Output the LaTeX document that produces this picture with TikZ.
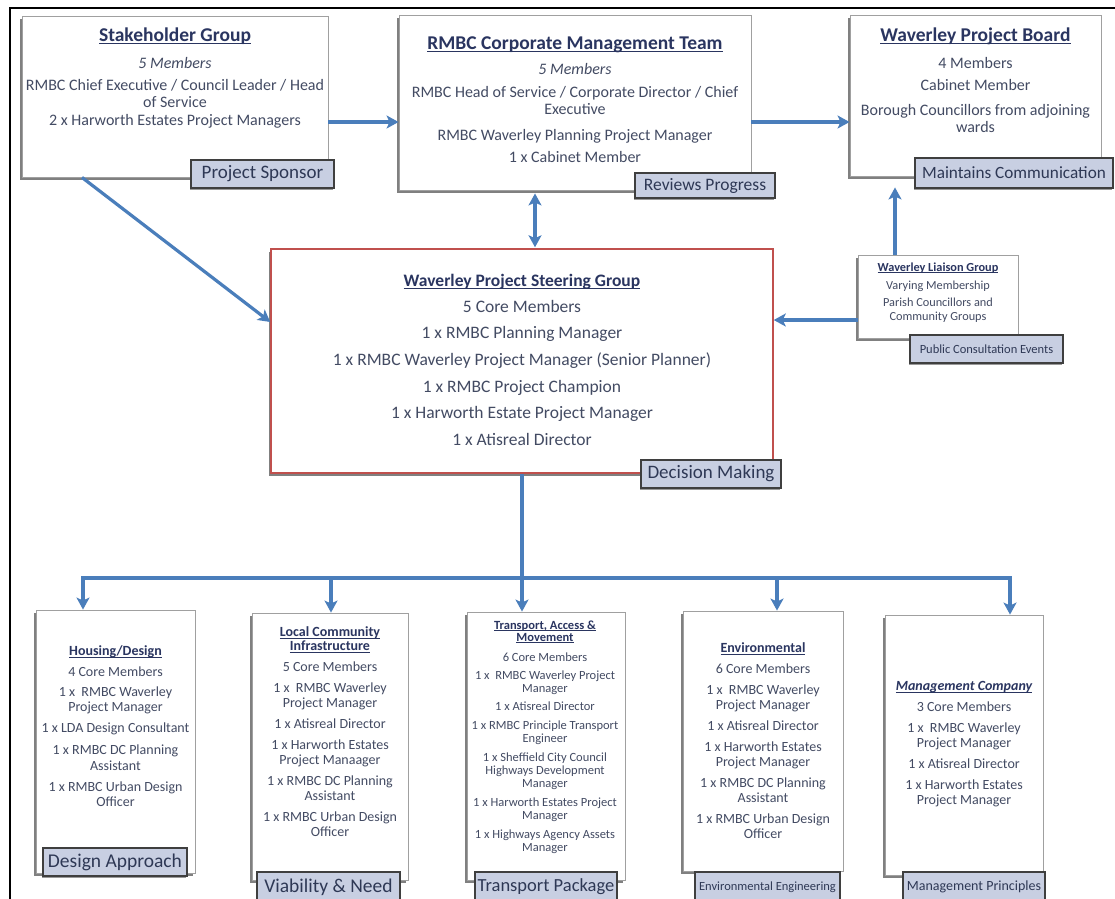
\documentclass[tikz,border=0pt]{standalone}
\usepackage{fontspec}
\setmainfont{Carlito}
\usetikzlibrary{arrows.meta,shadows}
\definecolor{bodytext}{HTML}{434B63}
\definecolor{titletext}{HTML}{2A3560}
\definecolor{boxgray}{HTML}{A0A0A0}
\definecolor{steerred}{HTML}{C0504D}
\definecolor{tagfill}{HTML}{C8CFE2}
\definecolor{tagborder}{HTML}{3F3F3F}
\definecolor{tagtext}{HTML}{2E3855}
\definecolor{arrowblue}{HTML}{4A7EBB}
\newcommand{\ttl}[1]{\setbox0\hbox{#1}\rlap{\rule[-0.17em]{\wd0}{0.07em}}\box0}
\tikzset{
  box/.style={draw=boxgray, line width=0.9pt, fill=white, inner sep=0pt,
    drop shadow={shadow xshift=-2pt, shadow yshift=-3pt, fill=black!50, opacity=1}},
  tag/.style={draw=tagborder, line width=1.2pt, fill=tagfill, text=tagtext, inner sep=0pt,
    drop shadow={shadow xshift=-1.5pt, shadow yshift=-2pt, fill=black!40, opacity=1}},
  tx/.style={text=bodytext, inner sep=0pt, anchor=base},
  ttop/.style={tx, text=titletext, font=\fontsize{19.5}{22}\selectfont\bfseries},
  btop/.style={tx, font=\fontsize{16}{18}\selectfont},
  tst/.style={tx, text=titletext, font=\fontsize{17.5}{20}\selectfont\bfseries},
  bst/.style={tx, font=\fontsize{17.5}{20}\selectfont},
  tli/.style={tx, text=titletext, font=\fontsize{12.3}{14}\selectfont\bfseries},
  bli/.style={tx, font=\fontsize{12.3}{14}\selectfont},
  tbt/.style={tx, text=titletext, font=\fontsize{14}{16}\selectfont\bfseries},
  bbt/.style={tx, font=\fontsize{14}{16}\selectfont},
  ttr/.style={tx, text=titletext, font=\fontsize{12.5}{14}\selectfont\bfseries},
  btr/.style={tx, font=\fontsize{12.5}{14}\selectfont},
  conn/.style={draw=arrowblue, line width=3.2pt, -{Stealth[length=12pt, width=13pt, inset=3pt]}},
  conn2/.style={draw=arrowblue, line width=3.2pt, {Stealth[length=12pt, width=13pt, inset=3pt]}-{Stealth[length=12pt, width=13pt, inset=3pt]}},
  bus/.style={draw=arrowblue, line width=3.2pt}
}
\begin{document}
\begin{tikzpicture}[x=1pt, y=-1pt]
\useasboundingbox (0,0) rectangle (1115,898);
\fill[white] (0,0) rectangle (1115,898);
\clip (0,0) rectangle (1115,898);
\draw[black, line width=2pt] (10,900) -- (10,8) -- (1116,8);

% boxes
\node[box, minimum width=306pt, minimum height=161pt] (sg) at (175,96.5) {};
\node[box, minimum width=352pt, minimum height=175pt] (cmt) at (575,102.5) {};
\node[box, minimum width=251pt, minimum height=161pt] (pb) at (975.5,95.5) {};
\node[box, draw=steerred, line width=1.5pt, minimum width=502pt, minimum height=224pt] (st) at (522,361) {};
\node[box, minimum width=160pt, minimum height=83pt] (li) at (938,296.5) {};
\node[box, minimum width=159pt, minimum height=263pt] (hs) at (115.5,741.5) {};
\node[box, minimum width=156pt, minimum height=267pt] (lc) at (330,746.5) {};
\node[box, minimum width=158pt, minimum height=268pt] (tr) at (546,746) {};
\node[box, minimum width=160pt, minimum height=260pt] (en) at (763,741) {};
\node[box, minimum width=158pt, minimum height=260pt] (mg) at (964,745) {};

% connectors
\draw[conn] ([yshift=-25.5pt]sg.east) -- ([yshift=-25.5pt]sg.east -| cmt.west);
\draw[conn] ([yshift=-19.5pt]cmt.east) -- ([yshift=-19.5pt]cmt.east -| pb.west);
\draw[conn] ([xshift=-93pt]sg.south) -- ([yshift=39pt]st.west);
\draw[conn2, shorten <=3pt, shorten >=1pt] ([xshift=-40pt]cmt.south) -- ([xshift=-40pt]cmt.south |- st.north);
\draw[conn] ([yshift=-23.5pt]li.west) -- ([yshift=-23.5pt]li.west -| st.east);
\draw[conn, shorten >=11pt] ([xshift=-43pt]li.north) -- ([xshift=-43pt]li.north |- pb.south);
\coordinate (busC) at (st.south |- 0,578);
\coordinate (hsIn) at ([xshift=-32.5pt]hs.north);
\coordinate (lcIn) at ([xshift=1pt]lc.north);
\coordinate (enIn) at ([xshift=14pt]en.north);
\coordinate (mgIn) at ([xshift=46pt]mg.north);
\draw[conn] (busC) -| (hsIn);
\draw[conn] (busC) -| (mgIn);
\draw[conn] (st.south) -- (st.south |- tr.north);
\draw[conn] (lcIn |- busC) -- (lcIn);
\draw[conn] (enIn |- busC) -- (enIn);

% tags
\node[tag, minimum width=143pt, minimum height=28pt, font=\fontsize{19}{20}\selectfont] (sgL) at (262.5,174) {Project Sponsor};
\node[tag, minimum width=140pt, minimum height=25pt, font=\fontsize{17.5}{19}\selectfont] (cmtL) at (705,185.5) {Reviews Progress};
\node[tag, minimum width=198pt, minimum height=30pt, font=\fontsize{17.2}{19}\selectfont] (pbL) at (1014,173) {Maintains Communication};
\node[tag, minimum width=140pt, minimum height=28pt, font=\fontsize{19}{20}\selectfont] (stL) at (711,474) {Decision Making};
\node[tag, minimum width=153pt, minimum height=28pt, font=\fontsize{12.5}{14}\selectfont] (liL) at (986.5,349) {Public Consultation Events};
\node[tag, minimum width=144pt, minimum height=28pt, font=\fontsize{19.5}{21}\selectfont] (hsL) at (115,862) {Design Approach};
\node[tag, minimum width=143pt, minimum height=30pt, font=\fontsize{19.5}{21}\selectfont] (lcL) at (328.5,887) {Viability \& Need};
\node[tag, minimum width=142pt, minimum height=30pt, font=\fontsize{18.5}{20}\selectfont] (trL) at (546,887) {Transport Package};
\node[tag, minimum width=145pt, minimum height=30pt, font=\fontsize{12.5}{14}\selectfont] (enL) at (767.5,887) {Environmental Engineering};
\node[tag, minimum width=142pt, minimum height=30pt, font=\fontsize{14}{16}\selectfont] (mgL) at (974,887) {Management Principles};

% Stakeholder text
\node[ttop] (sg0) at (175,41) {\ttl{Stakeholder Group}};
\node[btop] (sg1) at (175,68) {\itshape 5 Members};
\node[btop] (sg2) at (175,90) {RMBC Chief Executive / Council Leader / Head};
\node[btop] (sg3) at (175,107) {of Service};
\node[btop] (sg4) at (175,125) {2 x Harworth Estates Project Managers};
% CMT text
\node[ttop] (cm0) at (575,49) {\ttl{RMBC Corporate Management Team}};
\node[btop] (cm1) at (575,74) {\itshape 5 Members};
\node[btop] (cm2) at (575,97) {RMBC Head of Service / Corporate Director / Chief};
\node[btop] (cm3) at (575,114) {Executive};
\node[btop] (cm4) at (575,140) {RMBC Waverley Planning Project Manager};
\node[btop] (cm5) at (575,162) {1 x Cabinet Member};
% Board text
\node[ttop] (pb0) at (975.5,41) {\ttl{Waverley Project Board}};
\node[btop] (pb1) at (975.5,68) {4 Members};
\node[btop] (pb2) at (975.5,90) {Cabinet Member};
\node[btop] (pb3) at (975.5,115) {Borough Councillors from adjoining};
\node[btop] (pb4) at (975.5,132) {wards};
% Steering text
\node[tst] (st0) at (522,286) {\ttl{Waverley Project Steering Group}};
\node[bst] (st1) at (522,312.5) {5 Core Members};
\node[bst] (st2) at (522,338.5) {1 x RMBC Planning Manager};
\node[bst] (st3) at (522,365.5) {1 x RMBC Waverley Project Manager (Senior Planner)};
\node[bst] (st4) at (522,392.5) {1 x RMBC Project Champion};
\node[bst] (st5) at (522,418.5) {1 x Harworth Estate Project Manager};
\node[bst] (st6) at (522,445.5) {1 x Atisreal Director};
% Liaison text
\node[tli] (li0) at (938,271) {\ttl{Waverley Liaison Group}};
\node[bli] (li1) at (938,289) {Varying Membership};
\node[bli] (li2) at (938,306) {Parish Councillors and};
\node[bli] (li3) at (938,320) {Community Groups};
% Housing text
\node[tbt] (hs0) at (115.5,655.5) {\ttl{Housing/Design}};
\node[bbt] (hs1) at (115.5,676.5) {4 Core Members};
\node[bbt] (hs2) at (115.5,696.5) {1 x\ \ RMBC Waverley};
\node[bbt] (hs3) at (115.5,711.5) {Project Manager};
\node[bbt] (hs4) at (115.5,732.5) {1 x LDA Design Consultant};
\node[bbt] (hs5) at (115.5,754.5) {1 x RMBC DC Planning};
\node[bbt] (hs6) at (115.5,770.5) {Assistant};
\node[bbt] (hs7) at (115.5,791.5) {1 x RMBC Urban Design};
\node[bbt] (hs8) at (115.5,806.5) {Officer};
% Local Community text
\node[tbt] (lc0) at (330,636.5) {\ttl{Local Community}};
\node[tbt] (lc1) at (330,650.5) {\ttl{Infrastructure}};
\node[bbt] (lc2) at (330,671.5) {5 Core Members};
\node[bbt] (lc3) at (330,692.5) {1 x\ \ RMBC Waverley};
\node[bbt] (lc4) at (330,707.5) {Project Manager};
\node[bbt] (lc5) at (330,728.5) {1 x Atisreal Director};
\node[bbt] (lc6) at (330,749.5) {1 x Harworth Estates};
\node[bbt] (lc7) at (330,764.5) {Project Manaager};
\node[bbt] (lc8) at (330,785.5) {1 x RMBC DC Planning};
\node[bbt] (lc9) at (330,800.5) {Assistant};
\node[bbt] (lc10) at (330,821.5) {1 x RMBC Urban Design};
\node[bbt] (lc11) at (330,836.5) {Officer};
% Transport text
\node[ttr] (tr0) at (545,629) {\ttl{Transport, Access \&}};
\node[ttr] (tr1) at (545,641) {\ttl{Movement}};
\node[btr] (tr2) at (545,661) {6 Core Members};
\node[btr] (tr3) at (545,679) {1 x\ \ RMBC Waverley Project};
\node[btr] (tr4) at (545,692) {Manager};
\node[btr] (tr5) at (545,710) {1 x Atisreal Director};
\node[btr] (tr6) at (545,729) {1 x RMBC Principle Transport};
\node[btr] (tr7) at (545,742) {Engineer};
\node[btr] (tr8) at (545,761) {1 x Sheffield City Council};
\node[btr] (tr9) at (545,774) {Highways Development};
\node[btr] (tr10) at (545,787) {Manager};
\node[btr] (tr11) at (545,806) {1 x Harworth Estates Project};
\node[btr] (tr12) at (545,819) {Manager};
\node[btr] (tr13) at (545,838) {1 x Highways Agency Assets};
\node[btr] (tr14) at (545,851) {Manager};
% Environmental text
\node[tbt] (en0) at (763,652.5) {\ttl{Environmental}};
\node[bbt] (en1) at (763,673.5) {6 Core Members};
\node[bbt] (en2) at (763,694.5) {1 x\ \ RMBC Waverley};
\node[bbt] (en3) at (763,709.5) {Project Manager};
\node[bbt] (en4) at (763,730.5) {1 x Atisreal Director};
\node[bbt] (en5) at (763,751.5) {1 x Harworth Estates};
\node[bbt] (en6) at (763,766.5) {Project Manager};
\node[bbt] (en7) at (763,787.5) {1 x RMBC DC Planning};
\node[bbt] (en8) at (763,802.5) {Assistant};
\node[bbt] (en9) at (763,823.5) {1 x RMBC Urban Design};
\node[bbt] (en10) at (763,838.5) {Officer};
% Management text
\node[tbt] (mg0) at (964,690.5) {\ttl{\itshape Management Company}};
\node[bbt] (mg1) at (964,711.5) {3 Core Members};
\node[bbt] (mg2) at (964,732.5) {1 x\ \ RMBC Waverley};
\node[bbt] (mg3) at (964,747.5) {Project Manager};
\node[bbt] (mg4) at (964,768.5) {1 x Atisreal Director};
\node[bbt] (mg5) at (964,789.5) {1 x Harworth Estates};
\node[bbt] (mg6) at (964,804.5) {Project Manager};
\end{tikzpicture}
\end{document}
